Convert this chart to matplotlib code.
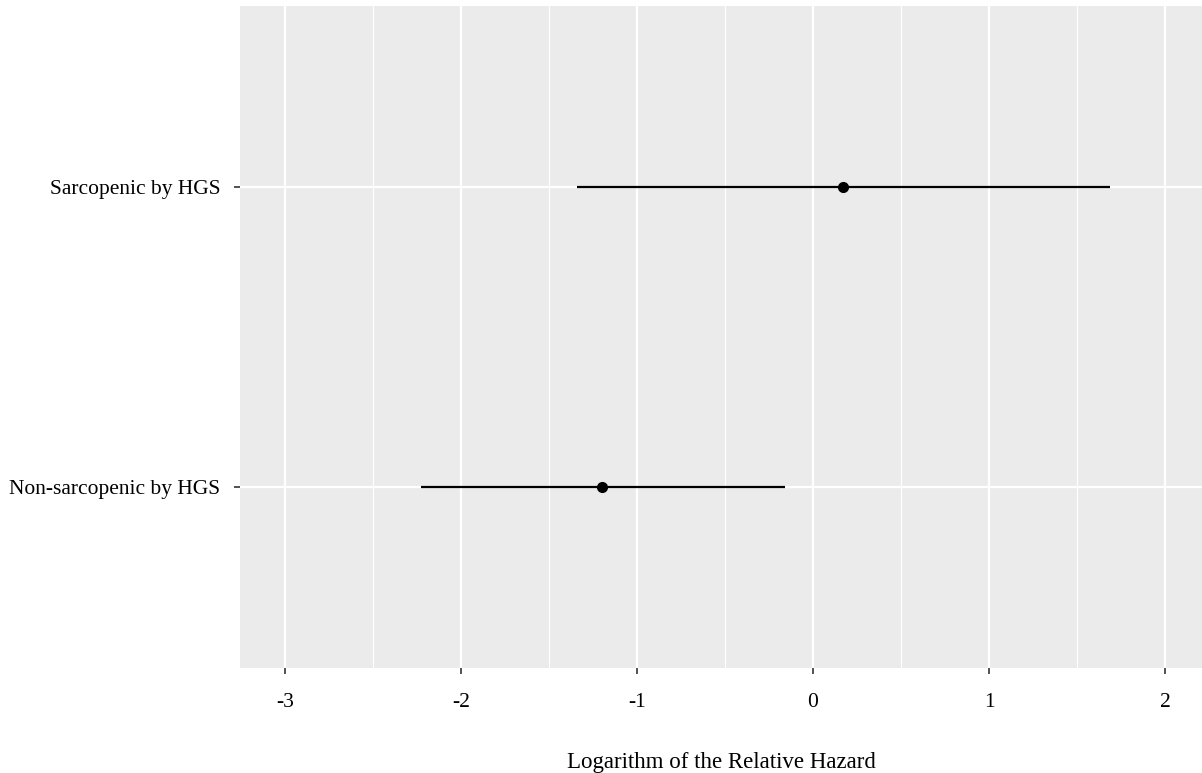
import matplotlib
matplotlib.use('Agg')
import matplotlib.pyplot as plt

# forest-style plot of log relative hazard
groups = ['Non-sarcopenic by HGS', 'Sarcopenic by HGS']
est = [-1.20, 0.17]
lower = [-2.23, -1.34]
upper = [-0.16, 1.69]
xticks = [-3, -2, -1, 0, 1, 2]

plt.rcParams['font.family'] = ['Liberation Serif', 'DejaVu Serif']

fig = plt.figure(figsize=(12.02, 7.73), dpi=100)
ax = fig.add_axes([0.1997, 0.136, 0.8003, 0.856])
ax.set_facecolor('#ebebeb')

ypos = list(range(1, len(groups) + 1))
for y, e, lo, hi in zip(ypos, est, lower, upper):
    ax.plot([lo, hi], [y, y], color='black', lw=1.6, zorder=3, solid_capstyle='butt')
    ax.plot(e, y, 'o', color='black', ms=7, zorder=4)

ax.set_xlim(-3.256, 2.21)
ax.set_ylim(0.4, 2.6)
ax.set_xticks(xticks)
ax.set_xticklabels([str(t) for t in xticks])
ax.set_xticks([-2.5, -1.5, -0.5, 0.5, 1.5], minor=True)
ax.set_yticks(ypos)
ax.set_yticklabels(groups)

ax.grid(which='major', color='white', lw=1.6, zorder=0)
ax.grid(which='minor', axis='x', color='white', lw=0.8, zorder=0)
ax.set_axisbelow(True)
ax.tick_params(which='minor', length=0)
ax.tick_params(which='major', length=4, width=1.2, color='#333333', labelsize=15.5, labelcolor='black')
ax.tick_params(axis='x', pad=14)
ax.tick_params(axis='y', pad=10)
for s in ax.spines.values():
    s.set_visible(False)

ax.set_xlabel('Logarithm of the Relative Hazard', fontsize=16.5, labelpad=29)

fig.savefig('out.png', dpi=100)
